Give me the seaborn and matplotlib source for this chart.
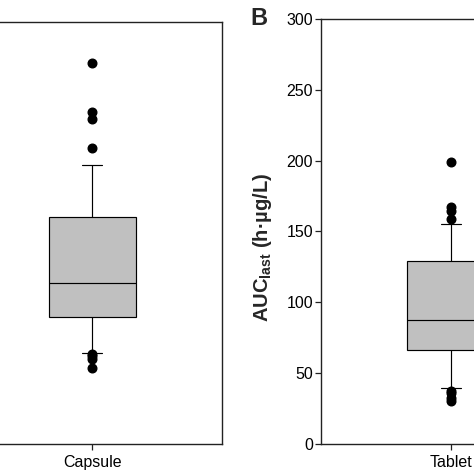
import matplotlib
matplotlib.use("Agg")
import matplotlib.pyplot as plt
import seaborn as sns
import pandas as pd

# individual AUClast values (h·µg/L), estimated so the 10/25/50/75/90 percentiles
# and the flagged points match the picture
capsule_auc = [53.5, 60.5, 62.5, 63.8, 64.3, 68, 74, 79, 85, 90.0,
               90.4, 93, 97, 100, 103, 106, 108, 110, 112, 114,
               115, 119, 124, 130, 136, 141, 147, 152, 157, 161,
               161.4, 168, 175, 183, 190, 198, 210.1, 230.8, 236.2, 270.6]
tablet_auc = [30.0, 32.0, 35.5, 37.0, 39.1, 45, 52, 57, 62, 66.0,
              66.3, 69, 72, 75, 77, 79, 81, 83, 85, 86.8,
              87.4, 90, 94, 99, 104, 109, 114, 119, 124, 129,
              130, 135, 140, 145, 150, 155, 158.7, 164.5, 167.4, 199.3]
groups = ["Capsule", "Tablet"]
yticks = [0, 50, 100, 150, 200, 250, 300]

df = pd.DataFrame({
    "Formulation": ["Capsule"] * len(capsule_auc) + ["Tablet"] * len(tablet_auc),
    "AUC": capsule_auc + tablet_auc,
})

sns.set_style("ticks")
plt.rcParams["font.family"] = ["Liberation Sans", "DejaVu Sans"]
plt.rcParams["mathtext.fontset"] = "custom"
plt.rcParams["mathtext.rm"] = "Liberation Sans"
plt.rcParams["mathtext.bf"] = "Liberation Sans:bold"

W = 474.0
fig = plt.figure(figsize=(4.74, 4.74), dpi=100)
ax_a = fig.add_axes([-37.4 / W, 30.3 / W, 259.4 / W, 421.7 / W])
ax_b = fig.add_axes([321.0 / W, 30.3 / W, 259.4 / W, 424.7 / W])

box_kws = dict(x="Formulation", y="AUC", color="#c0c0c0", saturation=1,
               width=0.334, whis=(10, 90), linecolor="black", linewidth=0.85,
               fliersize=6.2, capwidths=0.077,
               flierprops=dict(marker="o", markerfacecolor="black",
                               markeredgecolor="black"))

for ax, grp in zip([ax_a, ax_b], groups):
    sns.boxplot(data=df[df["Formulation"] == grp], ax=ax, **box_kws)
    ax.set_xlim(-0.5, 0.5)
    ax.set_ylim(0, 300)
    ax.set_yticks(yticks)
    ax.set_xlabel("")
    ax.set_ylabel("")
    for s in ax.spines.values():
        s.set_visible(True)
        s.set_color("#222222")
        s.set_linewidth(1.0)
    ax.tick_params(axis="both", direction="out", length=4.3, width=0.9,
                   color="#222222", labelsize=11.5, labelcolor="black")
    ax.tick_params(axis="y", pad=1.5)
    ax.tick_params(axis="x", pad=4)

# panel A's y axis lies outside the cropped area
ax_a.tick_params(axis="y", left=False, labelleft=False)

ax_b.text(-0.224, 0.463, r"$\mathbf{AUC}_{\mathbf{last}}$ (h·µg/L)",
          transform=ax_b.transAxes, rotation=90, ha="center", va="center",
          fontsize=14.5, fontweight="bold")
fig.text(259.0 / W, 1 - 25.0 / W, "B", ha="center", va="baseline",
         fontsize=17, fontweight="bold")

fig.savefig("out.png", dpi=100)
